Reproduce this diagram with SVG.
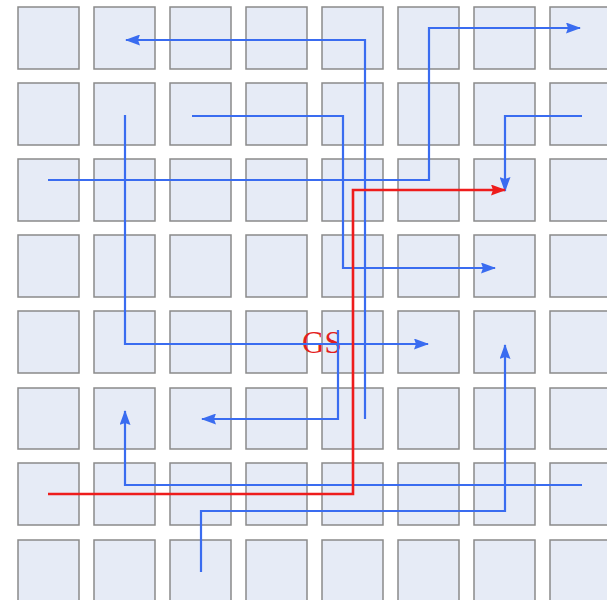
<svg xmlns="http://www.w3.org/2000/svg" width="607" height="600" viewBox="0 0 607 600">
<style>
.cell{fill:#e6ebf6;stroke:#8a8a8a;stroke-width:1.5}
.b{fill:none;stroke:#3a6cf0;stroke-width:2.2;stroke-linejoin:miter}
.r{fill:none;stroke:#ee1c1c;stroke-width:2.6;stroke-linejoin:miter}
.lbl{font-family:"Liberation Serif","Times New Roman",serif;font-size:31px;fill:#e41e1e}
</style>
<defs>
<marker id="ab" viewBox="0 0 15 11" refX="14" refY="5.5" markerWidth="15" markerHeight="11" markerUnits="userSpaceOnUse" orient="auto"><path d="M0,0 L15,5.5 L0,11 L2,5.5 z" fill="#3a6cf0"/></marker>
<marker id="ar" viewBox="0 0 15 11" refX="14" refY="5.5" markerWidth="15" markerHeight="11" markerUnits="userSpaceOnUse" orient="auto"><path d="M0,0 L15,5.5 L0,11 L2,5.5 z" fill="#ee1c1c"/></marker>
</defs>
<rect width="607" height="600" fill="#ffffff"/>
<g id="grid">
<rect class="cell" x="18" y="7" width="61" height="62"/><rect class="cell" x="94" y="7" width="61" height="62"/><rect class="cell" x="170" y="7" width="61" height="62"/><rect class="cell" x="246" y="7" width="61" height="62"/><rect class="cell" x="322" y="7" width="61" height="62"/><rect class="cell" x="398" y="7" width="61" height="62"/><rect class="cell" x="474" y="7" width="61" height="62"/><rect class="cell" x="550" y="7" width="61" height="62"/>
<rect class="cell" x="18" y="83" width="61" height="62"/><rect class="cell" x="94" y="83" width="61" height="62"/><rect class="cell" x="170" y="83" width="61" height="62"/><rect class="cell" x="246" y="83" width="61" height="62"/><rect class="cell" x="322" y="83" width="61" height="62"/><rect class="cell" x="398" y="83" width="61" height="62"/><rect class="cell" x="474" y="83" width="61" height="62"/><rect class="cell" x="550" y="83" width="61" height="62"/>
<rect class="cell" x="18" y="159" width="61" height="62"/><rect class="cell" x="94" y="159" width="61" height="62"/><rect class="cell" x="170" y="159" width="61" height="62"/><rect class="cell" x="246" y="159" width="61" height="62"/><rect class="cell" x="322" y="159" width="61" height="62"/><rect class="cell" x="398" y="159" width="61" height="62"/><rect class="cell" x="474" y="159" width="61" height="62"/><rect class="cell" x="550" y="159" width="61" height="62"/>
<rect class="cell" x="18" y="235" width="61" height="62"/><rect class="cell" x="94" y="235" width="61" height="62"/><rect class="cell" x="170" y="235" width="61" height="62"/><rect class="cell" x="246" y="235" width="61" height="62"/><rect class="cell" x="322" y="235" width="61" height="62"/><rect class="cell" x="398" y="235" width="61" height="62"/><rect class="cell" x="474" y="235" width="61" height="62"/><rect class="cell" x="550" y="235" width="61" height="62"/>
<rect class="cell" x="18" y="311" width="61" height="62"/><rect class="cell" x="94" y="311" width="61" height="62"/><rect class="cell" x="170" y="311" width="61" height="62"/><rect class="cell" x="246" y="311" width="61" height="62"/><rect class="cell" x="322" y="311" width="61" height="62"/><rect class="cell" x="398" y="311" width="61" height="62"/><rect class="cell" x="474" y="311" width="61" height="62"/><rect class="cell" x="550" y="311" width="61" height="62"/>
<rect class="cell" x="18" y="388" width="61" height="61"/><rect class="cell" x="94" y="388" width="61" height="61"/><rect class="cell" x="170" y="388" width="61" height="61"/><rect class="cell" x="246" y="388" width="61" height="61"/><rect class="cell" x="322" y="388" width="61" height="61"/><rect class="cell" x="398" y="388" width="61" height="61"/><rect class="cell" x="474" y="388" width="61" height="61"/><rect class="cell" x="550" y="388" width="61" height="61"/>
<rect class="cell" x="18" y="463" width="61" height="62"/><rect class="cell" x="94" y="463" width="61" height="62"/><rect class="cell" x="170" y="463" width="61" height="62"/><rect class="cell" x="246" y="463" width="61" height="62"/><rect class="cell" x="322" y="463" width="61" height="62"/><rect class="cell" x="398" y="463" width="61" height="62"/><rect class="cell" x="474" y="463" width="61" height="62"/><rect class="cell" x="550" y="463" width="61" height="62"/>
<rect class="cell" x="18" y="540" width="61" height="62"/><rect class="cell" x="94" y="540" width="61" height="62"/><rect class="cell" x="170" y="540" width="61" height="62"/><rect class="cell" x="246" y="540" width="61" height="62"/><rect class="cell" x="322" y="540" width="61" height="62"/><rect class="cell" x="398" y="540" width="61" height="62"/><rect class="cell" x="474" y="540" width="61" height="62"/><rect class="cell" x="550" y="540" width="61" height="62"/>
</g>
<g id="gs"><text class="lbl" x="302" y="353">GS</text></g>
<g id="connectors">
<path class="b" d="M365,419 V40 H126" marker-end="url(#ab)"/>
<path class="b" d="M48,180 H429 V28 H580" marker-end="url(#ab)"/>
<path class="b" d="M582,116 H505 V191" marker-end="url(#ab)"/>
<path class="b" d="M192,116 H343 V268 H495" marker-end="url(#ab)"/>
<path class="b" d="M125,115 V344 H428" marker-end="url(#ab)"/>
<path class="b" d="M338,330 V419 H202" marker-end="url(#ab)"/>
<path class="b" d="M582,485 H125 V411" marker-end="url(#ab)"/>
<path class="b" d="M201,572 V511 H505 V345" marker-end="url(#ab)"/>
<path class="r" d="M48,494 H353 V190 H505" marker-end="url(#ar)"/>
</g>
</svg>
